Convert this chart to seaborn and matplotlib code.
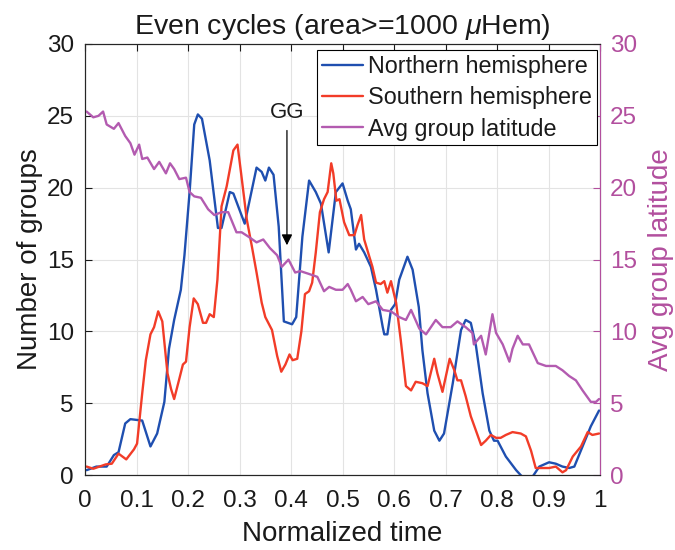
import matplotlib
matplotlib.use("Agg")
import matplotlib.pyplot as plt
import seaborn as sns
import numpy as np
import pandas as pd

# %% Data
north_t = [0.003, 0.022, 0.042, 0.056, 0.065, 0.078, 0.088, 0.111, 0.127, 0.14,
           0.154, 0.163, 0.173, 0.186, 0.193, 0.203, 0.212, 0.219, 0.227, 0.242,
           0.258, 0.265, 0.281, 0.288, 0.31, 0.333, 0.343, 0.35, 0.357, 0.366,
           0.376, 0.386, 0.402, 0.41, 0.422, 0.435, 0.448, 0.458, 0.473, 0.487,
           0.5, 0.51, 0.516, 0.526, 0.532, 0.542, 0.555, 0.565, 0.578, 0.581,
           0.587, 0.594, 0.602, 0.61, 0.626, 0.636, 0.648, 0.655, 0.665, 0.678,
           0.688, 0.697, 0.714, 0.73, 0.739, 0.749, 0.759, 0.772, 0.785, 0.794,
           0.801, 0.817, 0.837, 0.846, 0.858, 0.869, 0.882, 0.901, 0.914, 0.927,
           0.94, 0.95, 0.966, 0.982, 0.998]
north_n = [0.35, 0.6, 0.6, 1.4, 1.6, 3.6, 3.9, 3.8, 2.0, 2.9,
           5.1, 8.8, 10.8, 12.9, 15.3, 19.7, 24.4, 25.1, 24.8, 21.9,
           17.2, 17.2, 19.7, 19.6, 17.5, 21.4, 21.1, 20.5, 21.4, 20.9,
           17.3, 10.7, 10.5, 11.0, 16.6, 20.5, 19.7, 18.9, 15.5, 19.7,
           20.3, 19.1, 18.5, 15.7, 16.1, 15.5, 14.5, 12.9, 10.3, 9.8,
           9.8, 11.5, 11.9, 13.6, 15.2, 14.3, 11.7, 8.7, 5.7, 3.1,
           2.4, 2.9, 6.4, 10.1, 10.8, 10.6, 9.0, 5.7, 3.1, 2.4,
           2.4, 1.3, 0.35, 0.0, -0.4, -0.1, 0.6, 0.9, 0.8, 0.6,
           0.5, 0.6, 2.0, 3.4, 4.5]

south_t = [0.003, 0.016, 0.04, 0.052, 0.065, 0.08, 0.095, 0.101, 0.111, 0.118,
           0.127, 0.134, 0.142, 0.15, 0.16, 0.167, 0.173, 0.183, 0.19, 0.196,
           0.203, 0.211, 0.219, 0.229, 0.235, 0.242, 0.25, 0.257, 0.265, 0.275,
           0.288, 0.296, 0.303, 0.314, 0.324, 0.333, 0.343, 0.35, 0.363, 0.373,
           0.381, 0.389, 0.397, 0.403, 0.412, 0.42, 0.427, 0.435, 0.441, 0.448,
           0.456, 0.464, 0.471, 0.478, 0.482, 0.488, 0.494, 0.503, 0.513, 0.523,
           0.529, 0.536, 0.542, 0.552, 0.558, 0.565, 0.574, 0.581, 0.587, 0.594,
           0.604, 0.613, 0.623, 0.633, 0.642, 0.655, 0.665, 0.678, 0.684, 0.694,
           0.708, 0.717, 0.723, 0.73, 0.739, 0.749, 0.759, 0.769, 0.778, 0.788,
           0.798, 0.807, 0.817, 0.83, 0.846, 0.856, 0.866, 0.875, 0.885, 0.901,
           0.914, 0.927, 0.934, 0.947, 0.963, 0.976, 0.985, 0.998]
south_n = [0.6, 0.45, 0.75, 0.8, 1.5, 1.1, 1.8, 2.2, 5.7, 8.0,
           9.8, 10.3, 11.4, 10.7, 7.1, 6.0, 5.3, 6.7, 7.7, 7.9,
           10.3, 12.3, 11.9, 10.6, 10.6, 11.2, 11.0, 13.6, 18.7, 20.1,
           22.6, 23.0, 21.0, 17.8, 15.9, 14.1, 12.0, 11.0, 10.1, 8.3,
           7.2, 7.7, 8.4, 8.0, 8.1, 10.0, 12.6, 12.8, 13.4, 15.5,
           18.3, 19.2, 19.7, 21.7, 21.0, 19.1, 19.2, 17.6, 16.7, 16.7,
           17.4, 18.1, 16.4, 15.2, 14.5, 13.4, 13.3, 13.5, 12.7, 13.5,
           12.0, 9.4, 6.2, 5.9, 6.5, 6.4, 6.2, 8.1, 7.1, 5.8,
           8.1, 7.3, 6.6, 6.6, 5.5, 4.1, 3.1, 2.1, 2.4, 2.8,
           2.6, 2.6, 2.8, 3.0, 2.9, 2.7, 1.7, 0.5, 0.5, 0.5,
           0.6, 0.2, 0.35, 1.3, 2.0, 3.0, 2.8, 2.9]

lat_t = [0.003, 0.016, 0.026, 0.035, 0.042, 0.056, 0.065, 0.078, 0.088, 0.096,
         0.105, 0.111, 0.121, 0.134, 0.144, 0.157, 0.165, 0.173, 0.183, 0.196,
         0.203, 0.212, 0.225, 0.239, 0.251, 0.265, 0.278, 0.294, 0.304, 0.317,
         0.333, 0.346, 0.359, 0.373, 0.382, 0.395, 0.408, 0.418, 0.435, 0.451,
         0.464, 0.474, 0.487, 0.5, 0.51, 0.516, 0.526, 0.539, 0.55, 0.565,
         0.578, 0.594, 0.61, 0.623, 0.633, 0.649, 0.662, 0.681, 0.694, 0.71,
         0.723, 0.739, 0.752, 0.755, 0.769, 0.778, 0.791, 0.798, 0.811, 0.824,
         0.83, 0.84, 0.85, 0.862, 0.879, 0.895, 0.914, 0.927, 0.94, 0.953,
         0.966, 0.982, 0.992, 0.998]
lat_deg = [25.3, 24.9, 25.0, 25.3, 24.4, 24.1, 24.5, 23.6, 23.1, 22.3,
           23.0, 22.0, 22.1, 21.3, 21.8, 21.0, 21.7, 21.3, 20.6, 20.7,
           19.7, 19.4, 19.3, 18.5, 18.1, 18.3, 18.3, 16.9, 16.9, 16.6,
           16.2, 16.4, 15.8, 15.3, 14.5, 15.0, 14.1, 14.2, 14.0, 13.8,
           12.8, 13.1, 12.9, 12.9, 13.3, 12.9, 12.1, 12.4, 11.9, 12.1,
           11.5, 11.4, 11.0, 10.8, 11.5, 10.2, 9.8, 10.8, 10.3, 10.3,
           10.7, 10.3, 9.9, 9.1, 9.7, 8.4, 11.2, 9.9, 9.1, 7.9,
           8.8, 9.7, 9.1, 9.1, 7.8, 7.6, 7.6, 7.3, 6.9, 6.6,
           5.9, 5.1, 5.1, 5.3]

x_ticks = np.round(np.arange(0, 1.01, 0.1), 1)
x_tick_labels = ["0", "0.1", "0.2", "0.3", "0.4", "0.5", "0.6", "0.7", "0.8", "0.9", "1"]
y_ticks = [0, 5, 10, 15, 20, 25, 30]

# %% Style
sns.set_theme(style="white")
plt.rcParams['font.family'] = ['Liberation Sans', 'DejaVu Sans']
plt.rcParams['mathtext.fontset'] = 'custom'
plt.rcParams['mathtext.it'] = 'Liberation Sans:italic'
plt.rcParams['mathtext.rm'] = 'Liberation Sans'

blue = '#1f4fb0'
red = '#f23c28'
purple = '#b35bb0'
purple_txt = '#b24f9e'
ink = '#1a1a1a'

fig = plt.figure(figsize=(6.75, 5.5), dpi=100)
ax = fig.add_axes([0.126, 0.136, 0.763, 0.784])
ax2 = ax.twinx()

north_df = pd.DataFrame({'t': north_t, 'n': north_n})
south_df = pd.DataFrame({'t': south_t, 'n': south_n})
lat_df = pd.DataFrame({'t': lat_t, 'lat': lat_deg})

sns.lineplot(data=north_df, x='t', y='n', ax=ax, color=blue, lw=1.7,
             label='Northern hemisphere', legend=False)
sns.lineplot(data=south_df, x='t', y='n', ax=ax, color=red, lw=1.7,
             label='Southern hemisphere', legend=False)
sns.lineplot(data=lat_df, x='t', y='lat', ax=ax2, color=purple, lw=1.7,
             label='Avg group latitude', legend=False)

# axes
for a in (ax, ax2):
    a.set_xlim(0, 1)
    a.set_ylim(0, 30)
    a.set_yticks(y_ticks)
ax.set_xticks(x_ticks)
ax.set_xticklabels(x_tick_labels)
ax.grid(True, color='#e3e3e3', lw=0.8)
ax.set_axisbelow(True)
ax.tick_params(axis='both', direction='in', labelsize=17.5, length=5, width=0.8,
               top=True, colors=ink)
ax.tick_params(axis='y', right=False, pad=8)
ax.tick_params(axis='x', pad=11)
ax2.tick_params(axis='y', direction='in', labelsize=17.5, length=5, width=0.8,
                colors=purple_txt, left=False, pad=7)

ax.set_xlabel('Normalized time', fontsize=20, labelpad=6, color=ink)
ax.set_ylabel('Number of groups', fontsize=20, labelpad=3, color=ink)
ax2.set_ylabel('Avg group latitude', fontsize=20, color=purple_txt, labelpad=8)
ax.set_title(r'Even cycles (area>=1000 $\mu$Hem)', fontsize=20.5, pad=7, color=ink)

for a in (ax, ax2):
    for s in a.spines.values():
        s.set_color('#262626')
        s.set_linewidth(0.8)
ax2.spines['right'].set_color(purple_txt)

# annotation
ax2.annotate('GG', xy=(0.392, 16.0), xytext=(0.392, 24.5), ha='center', va='bottom',
             fontsize=16, color=ink,
             arrowprops=dict(arrowstyle='-|>', color='black', lw=0.9,
                             mutation_scale=16, shrinkA=3, shrinkB=0))

# legend
h1, l1 = ax.get_legend_handles_labels()
h2, l2 = ax2.get_legend_handles_labels()
leg = ax2.legend(h1 + h2, l1 + l2, loc='upper right', bbox_to_anchor=(0.994, 0.986),
                 fontsize=16.8, frameon=True, fancybox=False, edgecolor='black',
                 framealpha=1, borderaxespad=0, handlelength=1.75, handletextpad=0.25,
                 labelspacing=0.36, borderpad=0.2)
leg.get_frame().set_linewidth(0.8)
for t in leg.get_texts():
    t.set_color(ink)

plt.savefig('out.png', dpi=100)
